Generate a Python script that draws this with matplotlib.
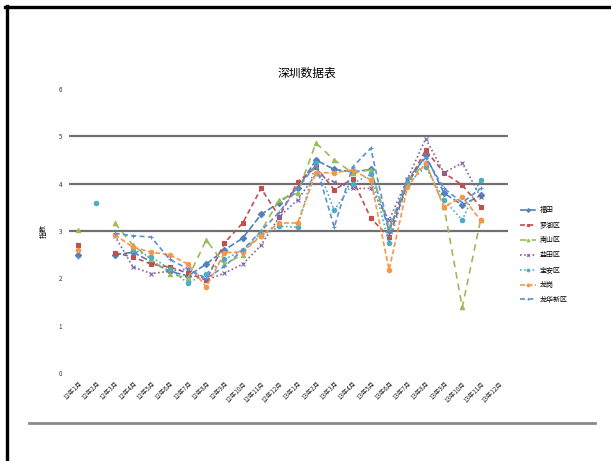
import numpy as np
import matplotlib
matplotlib.use("Agg")
import matplotlib.pyplot as plt
from matplotlib.lines import Line2D

plt.rcParams['font.family'] = ['Noto Sans CJK SC', 'DejaVu Sans']

nan = np.nan
months = ["12年1月", "12年2月", "12年3月", "12年4月", "12年5月", "12年6月",
          "12年7月", "12年8月", "12年9月", "12年10月", "12年11月", "12年12月",
          "13年1月", "13年2月", "13年3月", "13年4月", "13年5月", "13年6月",
          "13年7月", "13年8月", "13年9月", "13年10月", "13年11月", "13年12月"]

futian = [2.50, nan, 2.50, 2.55, 2.35, 2.15, 2.05, 2.30, 2.60, 2.85, 3.35, 3.60,
          3.90, 4.50, 4.30, 4.25, 4.30, 3.00, 4.00, 4.60, 3.80, 3.55, 3.75, nan]
luohu = [2.70, nan, 2.54, 2.45, 2.30, 2.24, 2.11, 1.96, 2.75, 3.17, 3.90, 3.30,
         4.04, 4.35, 3.87, 4.10, 3.27, 2.87, 4.00, 4.71, 4.23, 3.97, 3.51, nan]
nanshan = [3.02, nan, 3.17, 2.70, 2.40, 2.10, 2.00, 2.81, 2.30, 2.50, 3.00, 3.66,
           3.80, 4.86, 4.50, 4.23, 4.29, 3.08, 4.05, 4.44, 3.51, 1.39, 3.23, nan]
yantian = [nan, nan, 2.90, 2.24, 2.10, 2.15, 2.20, 1.96, 2.11, 2.30, 2.70, 3.30,
           3.66, 4.20, 4.04, 3.90, 3.90, 3.23, 4.10, 4.95, 4.23, 4.44, 3.72, nan]
baoan = [nan, 3.60, nan, 2.60, 2.45, 2.20, 1.90, 2.10, 2.40, 2.60, 2.90, 3.10,
         3.08, 4.44, 3.44, 4.00, 4.20, 2.75, 4.00, 4.35, 3.66, 3.23, 4.08, nan]
longgang = [2.60, nan, 2.92, 2.66, 2.55, 2.50, 2.30, 1.82, 2.54, 2.56, 2.90, 3.17,
            3.17, 4.23, 4.23, 4.29, 4.08, 2.18, 3.93, 4.44, 3.51, 3.72, 3.23, nan]
longhua = [2.45, nan, 2.95, 2.90, 2.87, 2.40, 2.20, 2.00, 2.25, 2.60, 3.00, 3.40,
           3.90, 4.40, 3.08, 4.35, 4.75, 3.00, 4.10, 4.55, 3.90, 3.60, 3.90, nan]

series_names = ["福田", "罗湖区", "南山区", "盐田区", "宝安区", "龙岗", "龙华新区"]
ref_levels = [3, 4, 5]
y_ticks = [0, 1, 2, 3, 4, 5, 6]

styles = [
    dict(color="#4F81BD", ls=(0, (4, 1.5)), marker="D"),
    dict(color="#C0504D", ls=(0, (3, 2)), marker="s"),
    dict(color="#9BBB59", ls=(0, (4, 3)), marker="^"),
    dict(color="#8064A2", ls=(0, (1, 1.5)), marker="x"),
    dict(color="#4BACC6", ls=(0, (1, 1.5)), marker="o"),
    dict(color="#F79646", ls=(0, (3, 1.5)), marker="o"),
    dict(color="#5B8FD6", ls=(0, (3, 2)), marker="+"),
]
data = [futian, luohu, nanshan, yantian, baoan, longgang, longhua]

W, H = 611, 461
fig = plt.figure(figsize=(W / 100, H / 100), dpi=100)

# frame lines around the sheet
fig.add_artist(Line2D([5 / W, 1], [1 - 7 / H, 1 - 7 / H], color="black", lw=2.4))
fig.add_artist(Line2D([6.5 / W, 6.5 / W], [0, 1 - 6 / H], color="black", lw=2.4))
fig.add_artist(Line2D([29 / W, 595 / W], [1 - 423 / H, 1 - 423 / H], color="#8a8a8a", lw=2))

ax = fig.add_axes([69 / W, 1 - 373 / H, (508 - 69) / W, (373 - 89) / H])
x = np.arange(len(months))
for ys, name, st in zip(data, series_names, styles):
    ax.plot(x, ys, color=st["color"], ls=st["ls"], lw=1.2, marker=st["marker"],
            ms=3.2, mec=st["color"], mfc=st["color"], mew=0.8, label=name)

for lv in ref_levels:
    ax.axhline(lv, color="#707070", lw=1.6, zorder=0)

ax.set_xlim(-0.5, len(months) - 0.5)
ax.set_ylim(0, 6)
ax.set_yticks(y_ticks)
ax.set_yticklabels([str(v) for v in y_ticks], fontsize=4.5, color="#333333")
ax.set_xticks(x)
ax.set_xticklabels(months, rotation=45, ha="right", va="top", fontsize=4.5,
                   rotation_mode="anchor", color="#222222")
ax.tick_params(length=0, pad=5)
for s in ax.spines.values():
    s.set_visible(False)
ax.set_ylabel("指数", fontsize=5, labelpad=8)

fig.text(307 / W, 1 - 73 / H, "深圳数据表", fontsize=8.5, ha="center", va="center")

ax.legend(loc="upper left", bbox_to_anchor=(514 / W, 1 - 200 / H),
          bbox_transform=fig.transFigure, frameon=False, fontsize=5,
          handlelength=2.3, labelspacing=1.0, handletextpad=0.5, markerscale=0.6)

fig.savefig("out.png", dpi=100)
